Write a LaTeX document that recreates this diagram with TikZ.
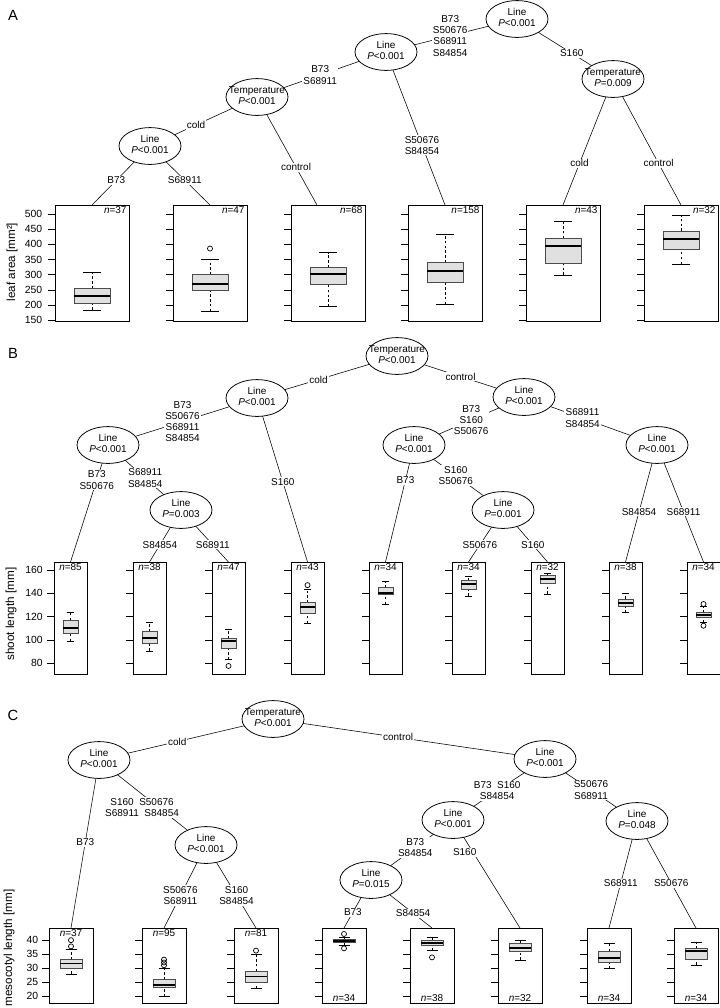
\documentclass[tikz,border=0pt]{standalone}
\usepackage{fontspec}
\setmainfont{Liberation Sans}
\usetikzlibrary{shapes.geometric,backgrounds}

% inner node text: variable over P value
\newcommand{\nd}[2]{\makebox[0pt]{\renewcommand{\arraystretch}{0.92}%
  \begin{tabular}{@{}c@{}}#1\\\textit{P}#2\end{tabular}}}
% box plot: x, half width, low, q1, median, q3, high
\newcommand{\bw}[7]{%
  \draw[whisk] (#1,#3) -- (#1,#4) (#1,#6) -- (#1,#7);
  \draw ({#1-#2/2},#3) -- ({#1+#2/2},#3) ({#1-#2/2},#7) -- ({#1+#2/2},#7);
  \draw[bx] ({#1-#2},#4) rectangle ({#1+#2},#6);
  \draw[med] ({#1-#2},#5) -- ({#1+#2},#5);}

\begin{document}
\begin{tikzpicture}[x=0.025cm,y=-0.025cm,line width=0.55pt,font=\fontsize{7.1}{8}\selectfont,
  main node/.style={ellipse,draw,fill=white,minimum width=1.55cm,minimum height=0.92cm,inner sep=0pt},
  lbl/.style={fill=white,inner sep=0.7pt,align=center},
  panel/.style={draw,line width=0.6pt},
  whisk/.style={dash pattern=on 1.8pt off 1.6pt},
  bx/.style={draw=black!70,fill=black!12},
  med/.style={line width=1.3pt},
  outl/.style={circle,draw,inner sep=0pt,minimum size=3.6pt,line width=0.5pt},
  nlab/.style={inner sep=0.8pt},
  axlab/.style={rotate=90,font=\fontsize{8.3}{10}\selectfont},
  ticklab/.style={anchor=east,inner sep=0pt,font=\fontsize{7.4}{9}\selectfont},
  letter/.style={font=\fontsize{10.5}{12}\selectfont}]
\useasboundingbox (0,0) rectangle (720,1008);

% ---- A: leaf area
\node[letter] (la) at (13,15) {A};
\node[main node] (a1) at (517,19) {\nd{Line}{<0.001}};
\node[main node] (a2) at (386,52) {\nd{Line}{<0.001}};
\node[main node] (a3) at (257,97) {\nd{Temperature}{<0.001}};
\node[main node] (a4) at (150,146) {\nd{Line}{<0.001}};
\node[main node] (a5) at (613,79) {\nd{Temperature}{=0.009}};
\foreach \i/\x in {1/92,2/210,3/317,4/445,5/563,6/681} \coordinate (ta\i) at (\x,205);
\node[axlab] (ya) at (12,262) {leaf area [mm²]};

\begin{scope}[shift={(0,365.9)},y=0.0076cm]
  \foreach \px/\nn in {55/37,173/47,291/68,408/158,526/43,644/32} {
    \draw[panel] (\px,147.7) rectangle ({\px+74},529.3);
    \foreach \tk in {150,200,...,500} \draw ({\px-7},\tk) -- (\px,\tk);
    \node[nlab,anchor=north east] at ({\px+73},529.3) {\textit{n}=\nn};
  }
  \foreach \tk in {150,200,...,500} \node[ticklab] at (42.5,\tk) {\tk};
  \bw{92}{18}{184}{205}{229}{255}{306}
  \bw{210}{18}{180}{250}{270}{300}{351}
  \node[outl] at (210,386) {};
  \bw{328}{18}{195}{269}{303}{324}{372}
  \bw{445}{18}{203}{276}{313}{340}{433}
  \bw{563}{18}{299}{338}{395}{420}{477}
  \bw{681}{18}{335}{382}{418}{444}{496}
\end{scope}

% ---- B: shoot length
\node[letter] (lb) at (13,353) {B};
\node[main node] (b1) at (397,356) {\nd{Temperature}{<0.001}};
\node[main node] (b2) at (257,398) {\nd{Line}{<0.001}};
\node[main node] (b3) at (108,445) {\nd{Line}{<0.001}};
\node[main node] (b4) at (181,510) {\nd{Line}{=0.003}};
\node[main node] (b5) at (524,397) {\nd{Line}{<0.001}};
\node[main node] (b6) at (414,445) {\nd{Line}{<0.001}};
\node[main node] (b7) at (503,510) {\nd{Line}{=0.001}};
\node[main node] (b8) at (657,445) {\nd{Line}{<0.001}};
\foreach \i/\x in {1/70.5,2/149.5,3/228.5,4/307.5,5/385.5,6/468.5,7/547.5,8/625.5,9/703.5}
  \coordinate (tb\i) at (\x,562);
\node[axlab] (yb) at (11,614) {shoot length [mm]};

\begin{scope}[shift={(0,756.6)},y=0.029167cm]
  \foreach \px/\nn in {54/85,133/38,212/47,291/43,369/34,452/34,531/32,609/38,687/34} {
    \draw[panel] (\px,70.4) rectangle ({\px+33},166.8);
    \foreach \tk in {80,100,...,160} \draw ({\px-7},\tk) -- (\px,\tk);
    \node[nlab,anchor=north] at ({\px+16.5},166.8) {\textit{n}=\nn};
  }
  \foreach \tk in {80,100,...,160} \node[ticklab] at (43,\tk) {\tk};
  \bw{70.5}{7.5}{99}{106}{110}{117}{124}
  \bw{149.5}{7.5}{90.5}{97}{102}{107}{115}
  \bw{228.5}{7.5}{83}{93}{99}{101}{109}
  \node[outl] at (228.5,77.7) {};
  \bw{307.5}{7.5}{114.3}{123}{128}{132}{143.7}
  \node[outl] at (307.5,147) {};
  \bw{385.5}{7.5}{130.6}{139}{140.5}{144.8}{150.3}
  \bw{468.5}{7.5}{137.7}{143.4}{148}{150.8}{154.8}
  \bw{547.5}{7.5}{139.4}{148.6}{152.3}{155.7}{157.1}
  \bw{625.5}{7.5}{123.4}{129.1}{131.4}{135.1}{140.3}
  \bw{703.5}{7.5}{114.8}{119.4}{121.4}{123.4}{128.5}
  \node[outl] at (703.5,130.8) {};
  \node[outl] at (703.5,112.2) {};
\end{scope}

% ---- C: mesocotyl length
\node[letter] (lc) at (13,715) {C};
\node[main node] (c1) at (273,719) {\nd{Temperature}{<0.001}};
\node[main node] (c2) at (99,760) {\nd{Line}{<0.001}};
\node[main node] (c3) at (206,845) {\nd{Line}{<0.001}};
\node[main node] (c4) at (545,759) {\nd{Line}{<0.001}};
\node[main node] (c5) at (453,820) {\nd{Line}{<0.001}};
\node[main node] (c6) at (637,821) {\nd{Line}{=0.048}};
\node[main node] (c7) at (371,880) {\nd{Line}{=0.015}};
\foreach \i/\x in {1/71,2/164,3/256,4/344,5/432,6/520,7/609,8/696} \coordinate (tc\i) at (\x,928);
\node[axlab] (yc) at (9,948) {mesocotyl length [mm]};

\begin{scope}[shift={(0,1052.7)},y=0.0705cm]
  \foreach \px in {49,142,234,322,410,498,587,674} {
    \draw[panel] (\px,17.6) rectangle ({\px+44},44.2);
    \foreach \tk in {20,25,...,40} \draw ({\px-7},\tk) -- (\px,\tk);
  }
  \foreach \px/\nn in {49/37,142/95,234/81}
    \node[nlab,anchor=north] at ({\px+22},44.2) {\textit{n}=\nn};
  \foreach \px/\nn in {322/34,410/38,498/32,587/34,674/34}
    \node[nlab,anchor=south] at ({\px+22},17.6) {\textit{n}=\nn};
  \foreach \tk in {20,25,...,40} \node[ticklab] at (38.5,\tk) {\tk};
  \bw{71}{11}{27.9}{30}{31.6}{33.1}{36.8}
  \node[outl] at (71,37.7) {};
  \node[outl] at (71,39.9) {};
  \bw{164}{11}{20}{23}{24}{26}{29.8}
  \node[outl] at (164,31) {};
  \node[outl] at (164,32) {};
  \node[outl] at (164,33) {};
  \bw{256}{11}{22.9}{25}{27}{28.9}{34.8}
  \node[outl] at (256,36.2) {};
  \bw{344}{11}{38.1}{39}{39.6}{40.2}{40.9}
  \node[outl] at (344,42.1) {};
  \node[outl] at (344,37) {};
  \bw{432}{11}{36.2}{38.2}{39}{39.9}{40.9}
  \node[outl] at (432,33.8) {};
  \bw{520}{11}{32.9}{36.1}{37.2}{38.8}{40}
  \bw{609}{11}{29.9}{32}{33.5}{36}{38.9}
  \bw{696}{11}{31.1}{33.1}{36.1}{37}{39}
\end{scope}

% ---- tree edges, behind the nodes
\begin{scope}[on background layer]
\path (a1.center) edge node[lbl,pos=.51] {B73\\S50676\\S68911\\S84854} (a2.center)
                  edge node[lbl,pos=.57] {S160} (a5.center)
      (a2.center) edge node[lbl,pos=.51] {B73\\S68911} (a3.center)
                  edge node[lbl,pos=.61] {S50676\\S84854} (ta4)
      (a3.center) edge node[lbl,pos=.57] {cold} (a4.center)
                  edge node[lbl,pos=.65] {control} (ta3)
      (a4.center) edge node[lbl,pos=.58] {B73} (ta1)
                  edge node[lbl,pos=.58] {S68911} (ta2)
      (a5.center) edge node[lbl,pos=.67] {cold} (ta5)
                  edge node[lbl,pos=.67] {control} (ta6);
\path (b1.center) edge node[lbl,pos=.56] {cold} (b2.center)
                  edge node[lbl,pos=.50] {control} (b5.center)
      (b2.center) edge node[lbl,pos=.50] {B73\\S50676\\S68911\\S84854} (b3.center)
                  edge node[lbl,pos=.51] {S160} (tb4)
      (b3.center) edge node[lbl,pos=.30] {B73\\S50676} (tb1)
                  edge node[lbl,pos=.51] {S68911\\S84854} (b4.center)
      (b4.center) edge node[lbl,pos=.67] {S84854} (tb2)
                  edge node[lbl,pos=.67] {S68911} (tb3)
      (b5.center) edge node[lbl,pos=.48] {B73\\S160\\S50676} (b6.center)
                  edge node[lbl,pos=.44] {S68911\\S84854} (b8.center)
      (b6.center) edge node[lbl,pos=.30] {B73} (tb5)
                  edge node[lbl,pos=.47] {S160\\S50676} (b7.center)
      (b7.center) edge node[lbl,pos=.67] {S50676} (tb6)
                  edge node[lbl,pos=.67] {S160} (tb7)
      (b8.center) edge node[lbl,pos=.57] {S84854} (tb8)
                  edge node[lbl,pos=.57] {S68911} (tb9);
\path (c1.center) edge node[lbl,pos=.55] {cold} (c2.center)
                  edge node[lbl,pos=.46] {control} (c4.center)
      (c2.center) edge node[lbl,pos=.49] {B73} (tc1)
                  edge node[lbl,pos=.56,xshift=-12pt] {S160\ \ S50676\\S68911\ \ S84854} (c3.center)
      (c3.center) edge node[lbl,pos=.61] {S50676\\S68911} (tc2)
                  edge node[lbl,pos=.61] {S160\\S84854} (tc3)
      (c4.center) edge node[lbl,pos=.52] {B73\ \ S160\\S84854} (c5.center)
                  edge node[lbl,pos=.50] {S50676\\S68911} (c6.center)
      (c5.center) edge node[lbl,pos=.46] {B73\\S84854} (c7.center)
                  edge node[lbl,pos=.30,xshift=-6pt] {S160} (tc6)
      (c6.center) edge node[lbl,pos=.58] {S68911} (tc7)
                  edge node[lbl,pos=.58] {S50676} (tc8)
      (c7.center) edge node[lbl,pos=.67] {B73} (tc4)
                  edge node[lbl,pos=.69] {S84854} (tc5);
\end{scope}
\end{tikzpicture}
\end{document}
